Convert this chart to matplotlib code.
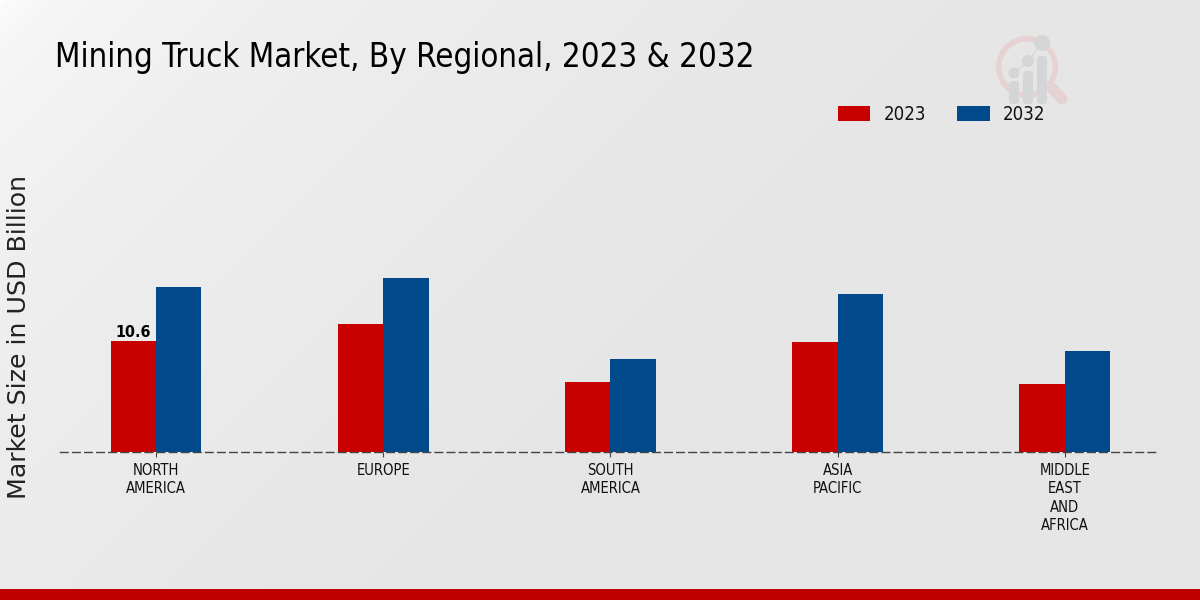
import numpy as np
import matplotlib
matplotlib.use("Agg")
import matplotlib.pyplot as plt
from matplotlib.patches import Circle, FancyBboxPatch, Wedge, Rectangle
from matplotlib.lines import Line2D

regions = ["NORTH\nAMERICA", "EUROPE", "SOUTH\nAMERICA", "ASIA\nPACIFIC", "MIDDLE\nEAST\nAND\nAFRICA"]
values_2023 = [10.6, 12.25, 6.7, 10.5, 6.45]
values_2032 = [15.8, 16.6, 8.9, 15.1, 9.65]
series_names = ["2023", "2032"]
title_text = "Mining Truck Market, By Regional, 2023 & 2032"
y_title = "Market Size in USD Billion"

W, H = 1200, 600
fig = plt.figure(figsize=(W / 100, H / 100), dpi=100)

# background gradient
bg = fig.add_axes([0, 0, 1, 1], zorder=0)
yy, xx = np.mgrid[0:1:300j, 0:1:600j]
d = np.clip((xx * 2 + yy * 1.0) / 1.6, 0, 1)
vals = 1 - 0.098 * np.clip(d, 0, 1) ** 0.35
bg.imshow(vals, cmap="gray", vmin=0, vmax=1, extent=[0, W, H, 0], aspect="auto", interpolation="bilinear")
bg.set_xlim(0, W); bg.set_ylim(H, 0); bg.axis("off")
bg.add_patch(Rectangle((0, 589), W, 11, color="#c00000", lw=0))

# logo watermark
bg.add_patch(Wedge((1027, 67), 31, 0, 360, width=5.5, color="#e6d2d2", lw=0))
bg.add_line(Line2D([1053, 1062], [89, 99], color="#e6d2d2", lw=8, solid_capstyle="round"))
logo_cx = [1014, 1028, 1042]
logo_top = [81, 71, 56]
logo_cy = [73, 61, 43]
logo_r = [5.5, 6, 8]
bg.add_line(Line2D(logo_cx, logo_cy, color="#d3d5d7", lw=0.8))
for cx, t, cy, r in zip(logo_cx, logo_top, logo_cy, logo_r):
    bg.add_patch(FancyBboxPatch((cx - 5, t), 10, 104 - t, boxstyle="round,pad=0,rounding_size=4", color="#d3d5d7", lw=0))
    bg.add_patch(Circle((cx, cy), r, color="#d3d5d7", lw=0))

# chart
left, right, base, top = 60, 1159, 452, 90
ax = fig.add_axes([left / W, 1 - base / H, (right - left) / W, (base - top) / H], zorder=1)
ax.patch.set_alpha(0)
x = np.arange(len(regions))
w = 0.2
b1 = ax.bar(x - w / 2, values_2023, w, color="#c80000", linewidth=0, label=series_names[0])
b2 = ax.bar(x + w / 2, values_2032, w, color="#004a8c", linewidth=0, label=series_names[1])
ax.set_xlim(-0.4224, 4.414)
ax.set_ylim(0, (base - top) / 10.47)
for s in ["top", "right", "left"]:
    ax.spines[s].set_visible(False)
ax.spines["bottom"].set_linestyle((0, (5.5, 3.2)))
ax.spines["bottom"].set_color("#444444")
ax.spines["bottom"].set_linewidth(1.0)
ax.set_yticks([])
ax.set_xticks(x)
ax.set_xticklabels(regions, family="DejaVu Sans", stretch="condensed", fontsize=10.6, color="#111111", linespacing=1.28)
ax.tick_params(axis="x", length=3.5, width=0.8, color="#444444", pad=4.5)
ax.text(x[0] - w / 2, values_2023[0] + 0.05, f"{values_2023[0]}", ha="center", va="bottom",
        fontsize=11.5, fontweight="bold", stretch="condensed", color="black")

fig.text(55 / W, 1 - 58 / H, title_text, family="DejaVu Sans", stretch="condensed", fontsize=23.7, color="black", va="center", ha="left")
fig.text(19 / W, 1 - 337 / H, y_title, rotation=90, fontsize=18.2, color="#222222", va="center", ha="center")

ax.legend(handles=[b1, b2], labels=series_names, loc="center left", bbox_to_anchor=(821 / W, 1 - 114.5 / H),
          bbox_transform=fig.transFigure, ncol=2, frameon=False, prop={"family": "DejaVu Sans", "stretch": "condensed", "size": 13.4},
          handlelength=1.75, handleheight=0.8, handletextpad=0.7, columnspacing=1.68, labelcolor="#111111")

fig.savefig("out.png", dpi=100)
